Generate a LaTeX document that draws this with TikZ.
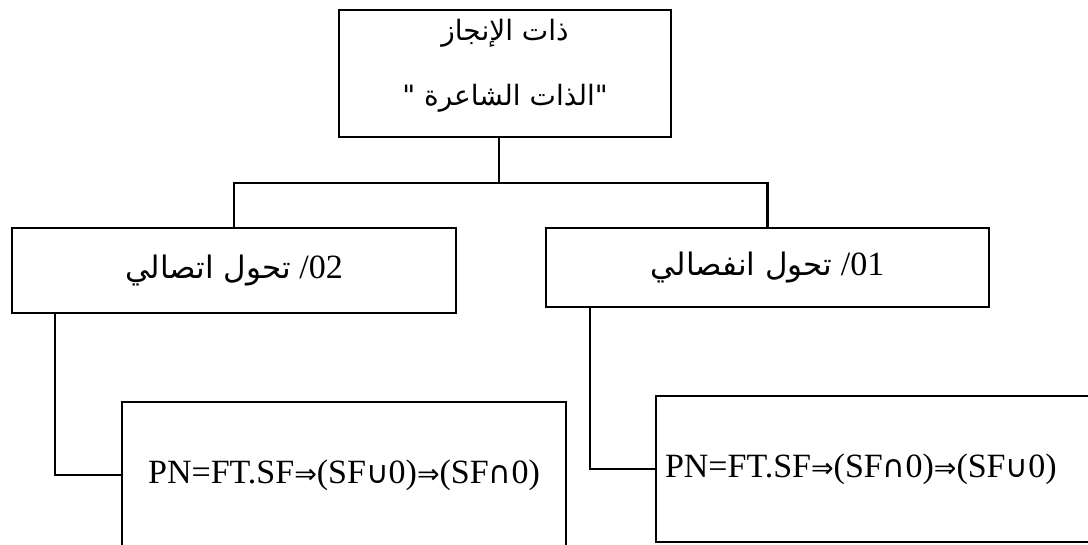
\documentclass[tikz,border=0pt]{standalone}
\usepackage{fontspec}
\setmainfont{Liberation Serif}
\newfontfamily\arabicfont[Script=Arabic]{DejaVu Sans}
\newfontfamily\symfont{DejaVu Sans}
\TeXXeTstate=1
\usetikzlibrary{calc,positioning}
\newcommand{\impl}{{\symfont\fontsize{27}{30}\selectfont ⇒}}
\newcommand{\uni}{{\symfont\fontsize{31}{30}\selectfont ∪}}
\newcommand{\inter}{{\symfont\fontsize{31}{30}\selectfont ∩}}

\begin{document}
\begin{tikzpicture}[x=1pt,y=-1pt,line width=2.2pt,
    every node/.style={font=\fontsize{34}{40}\selectfont},
    blk/.style={draw,line width=2.2pt,inner sep=0pt,minimum width=444pt,align=center},
    ar/.style={font=\arabicfont\fontsize{28}{65}\selectfont}]
  \useasboundingbox (0,0) rectangle (1088,545);
  \clip (0,0) rectangle (1088,545);
  \node[blk,ar,minimum width=332pt,minimum height=127pt,text depth=22pt] (self) at (505,73.5) {\beginR ذات الإنجاز\endR\\\beginR "الذات الشاعرة "\endR};
  \node[blk,minimum height=85pt] (tr2) at (234,270.5) {{\arabicfont\fontsize{31}{36}\selectfont\beginR تحول اتصالي\endR} /02};
  \node[blk,minimum width=443pt,minimum height=79pt] (tr1) at (767.5,267.5) {{\arabicfont\fontsize{31}{36}\selectfont\beginR تحول انفصالي\endR} /01};
  \node[blk,minimum height=146pt] (eq2) at (344,475) {PN=FT.SF\impl(SF\uni0)\impl(SF\inter0)};
  \node[blk,minimum height=146pt,text width=444pt,align=left] (eq1) at (878,469) {\hspace*{9pt}PN=FT.SF\impl(SF\inter0)\impl(SF\uni0)};
  \draw ($(self.south)+(-6,0)$) -- ++(0,45) coordinate (hub);
  \draw (tr2.north) |- (hub) -| (tr1.north);
  \draw ($(tr2.south west)+(44,0)$) |- (eq2.west);
  \draw ($(tr1.south west)+(45,0)$) |- (eq1.west);
\end{tikzpicture}
\end{document}
